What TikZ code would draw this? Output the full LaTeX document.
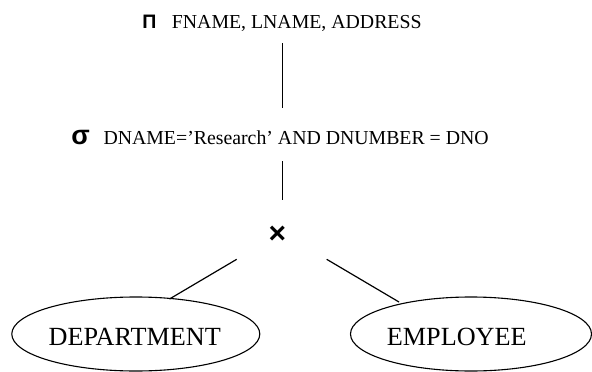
\documentclass[tikz,border=0pt]{standalone}
\usepackage{fontspec}
\setmainfont{Liberation Serif}
\newfontfamily\symfont{Liberation Sans}
\usetikzlibrary{shapes.geometric}
\tikzset{
  lbl/.style={inner sep=0pt, font=\fontsize{19.8}{24}\selectfont, anchor=base west},
  opsym/.style={inner sep=0pt, anchor=base},
  rel/.style={draw, ellipse, line width=1.1pt, inner sep=0pt},
  rellbl/.style={inner sep=0pt, anchor=base, font=\fontsize{26.2}{30}\selectfont},
  edge/.style={line width=1.2pt}
}
\begin{document}
\begin{tikzpicture}[x=1pt,y=-1pt]
\useasboundingbox (0,0) rectangle (592,372);
% projection
\node[opsym, font=\symfont\bfseries\fontsize{19.5}{22}\selectfont] (pi) at (149.5,28.5) {Π};
\node[lbl] (proj) at (171.7,28.5) {FNAME, LNAME, ADDRESS};
% selection
\node[opsym, font=\symfont\bfseries\fontsize{27}{30}\selectfont] (sigma) at (80.5,144.7) {σ};
\node[lbl] (sel) at (103.3,144.7) {DNAME=’Research’ AND DNUMBER = DNO};
% product
\node[inner sep=0pt, font=\symfont\bfseries\fontsize{30}{32}\selectfont] (times) at (277.5,235) {×};
% relations
\node[rel, minimum width=248pt, minimum height=74pt] (dept) at (135.8,334) {};
\node[rel, minimum width=241pt, minimum height=74pt] (emp) at (471,334) {};
\node[rellbl] (deptlbl) at (134.7,345) {DEPARTMENT};
\node[rellbl] (emplbl) at (456.8,345) {EMPLOYEE};
% connectors
\coordinate (a1) at (282.3,43);
\coordinate (a2) at (282.3,108);
\coordinate (b1) at (282.3,161);
\coordinate (b2) at (282.3,200);
\coordinate (c1) at (236.7,259.3);
\coordinate (c2) at (169.5,299);
\coordinate (d1) at (326.7,259.3);
\coordinate (d2) at (399,302);
\draw[edge] (a1) -- (a2);
\draw[edge] (b1) -- (b2);
\draw[edge] (c1) -- (c2);
\draw[edge] (d1) -- (d2);
\end{tikzpicture}
\end{document}
